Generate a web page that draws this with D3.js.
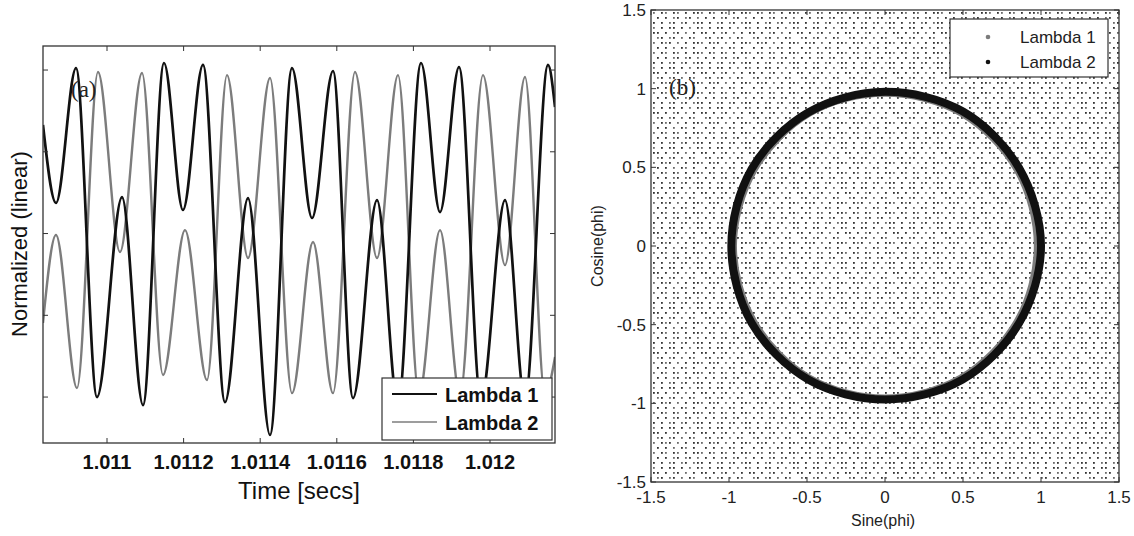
<!DOCTYPE html>
<html>
<head>
<meta charset="utf-8">
<script src="https://cdn.jsdelivr.net/npm/d3@7"></script>
<style>
  body { margin: 0; background: #fff; }
  svg { display: block; }
</style>
</head>
<body>
<svg id="chart" width="1134" height="536"></svg>
<script>
// ---- data ----
// panel (a): fringe signals, time [s] and normalized level at each turning point
var timeL1 = [1.0108329, 1.0108668, 1.0109191, 1.0109739, 1.0110392, 1.0110940, 1.0111488,
              1.0111984, 1.0112507, 1.0113081, 1.0113682, 1.0114256, 1.0114830, 1.0115353,
              1.0115901, 1.0116423, 1.0117050, 1.0117598, 1.0118199, 1.0118695, 1.0119191,
              1.0119765, 1.0120392, 1.0120914, 1.0121515, 1.0121697];
var levelL1 = [0.664, 0.187, 1.012, -1.0, 0.223, -1.049, 1.043,
               0.144, 1.031, -1.031, 0.217, -1.232, 1.012, 0.095,
               0.994, -1.006, 0.205, -1.049, 1.043, 0.131, 1.018,
               -1.018, 0.205, -1.018, 1.031, 0.774];
var timeL2 = [1.0108329, 1.0108668, 1.0109217, 1.0109765, 1.0110339, 1.0110914, 1.0111462,
              1.0112037, 1.0112611, 1.0113133, 1.0113682, 1.0114256, 1.0114830, 1.0115379,
              1.0115901, 1.0116475, 1.0117050, 1.0117598, 1.0118146, 1.0118695, 1.0119217,
              1.0119817, 1.0120392, 1.0120914, 1.0121436, 1.0121697];
var levelL2 = [-0.547, -0.009, -0.945, 0.988, -0.113, 0.982, -0.865,
               0.021, -0.896, 0.969, -0.150, 0.951, -0.976, -0.052,
               -0.976, 0.988, -0.150, 0.969, -0.988, 0.021, -0.988,
               0.969, -0.193, 0.957, -0.988, -0.755];
var timeTicks = [1.011, 1.0112, 1.0114, 1.0116, 1.0118, 1.012];
var timeTickLabels = ['1.011', '1.0112', '1.0114', '1.0116', '1.0118', '1.012'];
var levelTicks = [-1, -0.5, 0, 0.5, 1];

// panel (b): sine / cosine of phase, points traced round each ring
var sineL1 = [0.00, 0.485, 0.84, 0.97, 0.84, 0.48, 0.00, -0.48, -0.835, -0.965, -0.835, -0.48];
var cosineL1 = [0.965, 0.84, 0.485, 0.00, -0.48, -0.835, -0.96, -0.835, -0.48, 0.00, 0.48, 0.84];
var sineL2 = [0.00, 0.50, 0.86, 1.00, 0.86, 0.495, 0.00, -0.49, -0.855, -0.985, -0.855, -0.49];
var cosineL2 = [0.98, 0.855, 0.495, 0.00, -0.49, -0.85, -0.975, -0.85, -0.49, 0.00, 0.49, 0.85];
var phiTicks = [-1.5, -1, -0.5, 0, 0.5, 1, 1.5];
var phiTickLabels = ['-1.5', '-1', '-0.5', '0', '0.5', '1', '1.5'];
var seriesNames = ['Lambda 1', 'Lambda 2'];

var BLACK = '#111', GREY = '#7c7c7c', FRAME = '#333';
var svg = d3.select('#chart');

function zip(xs, ys) {
  return xs.map(function(x, i) { return [x, ys[i]]; });
}

function drawFrame(g, x, y, xt, yt, tickLen) {
  var x0 = x.range()[0], x1 = x.range()[1], y0 = y.range()[0], y1 = y.range()[1];
  g.append('rect')
    .attr('x', x0).attr('y', y1)
    .attr('width', x1 - x0).attr('height', y0 - y1)
    .attr('fill', 'none').attr('stroke', FRAME).attr('stroke-width', 1.3);
  xt.forEach(function(v) {
    g.append('line').attr('x1', x(v)).attr('x2', x(v)).attr('y1', y0).attr('y2', y0 - tickLen)
      .attr('stroke', FRAME);
    g.append('line').attr('x1', x(v)).attr('x2', x(v)).attr('y1', y1).attr('y2', y1 + tickLen)
      .attr('stroke', FRAME);
  });
  yt.forEach(function(v) {
    g.append('line').attr('x1', x0).attr('x2', x0 + tickLen).attr('y1', y(v)).attr('y2', y(v))
      .attr('stroke', FRAME);
    g.append('line').attr('x1', x1).attr('x2', x1 - tickLen).attr('y1', y(v)).attr('y2', y(v))
      .attr('stroke', FRAME);
  });
}

// ================= panel (a) =================
var xa = d3.scaleLinear().domain([1.0108329, 1.0121697]).range([43, 555]);
var ya = d3.scaleLinear().domain([-1.281, 1.147]).range([443, 46]);
var ga = svg.append('g');

ga.append('clipPath').attr('id', 'clip-a')
  .append('rect').attr('x', 43).attr('y', 46).attr('width', 512).attr('height', 397);

var lineA = d3.line()
  .x(function(d) { return xa(d[0]); })
  .y(function(d) { return ya(d[1]); })
  .curve(d3.curveMonotoneX);

var plotA = ga.append('g').attr('clip-path', 'url(#clip-a)');
plotA.append('path').datum(zip(timeL2, levelL2))
  .attr('d', lineA).attr('fill', 'none').attr('stroke', GREY).attr('stroke-width', 2.4);
plotA.append('path').datum(zip(timeL1, levelL1))
  .attr('d', lineA).attr('fill', 'none').attr('stroke', BLACK).attr('stroke-width', 2.7);

drawFrame(ga, xa, ya, timeTicks, levelTicks, 5);

ga.selectAll('text.xtick')
  .data(timeTicks)
  .enter()
    .append('text')
      .attr('class', 'xtick')
      .attr('x', function(d) { return xa(d); })
      .attr('y', 469)
      .attr('text-anchor', 'middle')
      .style('font', 'bold 20px "Liberation Sans", Arial, sans-serif')
      .attr('fill', '#111')
      .text(function(d, i) { return timeTickLabels[i]; });

ga.append('text')
  .attr('x', 299).attr('y', 499)
  .attr('text-anchor', 'middle')
  .style('font', '24px "Liberation Sans", Arial, sans-serif')
  .attr('fill', '#111')
  .text('Time [secs]');

ga.append('text')
  .attr('transform', 'translate(27,244) rotate(-90)')
  .attr('text-anchor', 'middle')
  .style('font', '22px "Liberation Sans", Arial, sans-serif')
  .attr('fill', '#111')
  .text('Normalized (linear)');

ga.append('text')
  .attr('x', 71).attr('y', 97)
  .style('font', '23px "Liberation Serif", "Times New Roman", serif')
  .attr('fill', '#222')
  .text('(a)');

// legend (a)
var legA = ga.append('g');
legA.append('rect')
  .attr('x', 382).attr('y', 378).attr('width', 170).attr('height', 62)
  .attr('fill', '#fff').attr('stroke', FRAME).attr('stroke-width', 1.2);
[BLACK, GREY].forEach(function(c, i) {
  var yy = 394 + i * 28;
  legA.append('line').attr('x1', 392).attr('x2', 437).attr('y1', yy).attr('y2', yy)
    .attr('stroke', c).attr('stroke-width', i ? 1.6 : 2.2);
  legA.append('text')
    .attr('x', 445).attr('y', yy + 8)
    .style('font', 'bold 20px "Liberation Sans", Arial, sans-serif')
    .attr('fill', '#111')
    .text(seriesNames[i]);
});

// ================= panel (b) =================
var xb = d3.scaleLinear().domain([-1.5, 1.5]).range([651, 1119]);
var yb = d3.scaleLinear().domain([-1.5, 1.5]).range([482, 10]);
var gb = svg.append('g');

// speckled background of the scatter
var speckle = [
  'x.xx.xx.x.xx',
  '.x.x.xx.xx.x',
  'x.x.xx.xx.xx',
  'x.x.xx.x.x.x',
  'xx.x.xx.x.x.',
  '.xx.xx.x.xx.',
  'x.xxx.x.x.xx',
  '.x.x.x.xx.x.'
];
var pat = gb.append('defs').append('pattern')
  .attr('id', 'speckle').attr('patternUnits', 'userSpaceOnUse')
  .attr('x', 652).attr('y', 11)
  .attr('width', 48).attr('height', 40);
speckle.forEach(function(row, r) {
  row.split('').forEach(function(ch, c) {
    if (ch !== 'x') return;
    pat.append('rect')
      .attr('x', c * 4 + 1).attr('y', r * 5 + 1)
      .attr('width', 1.8).attr('height', 1.8)
      .attr('fill', (r + c) % 3 ? '#333' : '#6a6a6a');
  });
});
gb.append('rect')
  .attr('x', 651).attr('y', 10).attr('width', 468).attr('height', 472)
  .attr('fill', 'url(#speckle)');

var ring = d3.line()
  .x(function(d) { return xb(d[0]); })
  .y(function(d) { return yb(d[1]); })
  .curve(d3.curveCatmullRomClosed.alpha(0.5));

gb.append('path').datum(zip(sineL1, cosineL1))
  .attr('d', ring).attr('fill', 'none').attr('stroke', GREY).attr('stroke-width', 5);
gb.append('path').datum(zip(sineL2, cosineL2))
  .attr('d', ring).attr('fill', 'none').attr('stroke', BLACK).attr('stroke-width', 8);

drawFrame(gb, xb, yb, phiTicks, phiTicks, 5);

gb.selectAll('text.xtick')
  .data(phiTicks)
  .enter()
    .append('text')
      .attr('class', 'xtick')
      .attr('x', function(d) { return xb(d); })
      .attr('y', 503)
      .attr('text-anchor', 'middle')
      .style('font', '17px "Liberation Sans", Arial, sans-serif')
      .attr('fill', '#222')
      .text(function(d, i) { return phiTickLabels[i]; });

gb.selectAll('text.ytick')
  .data(phiTicks)
  .enter()
    .append('text')
      .attr('class', 'ytick')
      .attr('x', 646)
      .attr('y', function(d) { return yb(d) + 6; })
      .attr('text-anchor', 'end')
      .style('font', '17px "Liberation Sans", Arial, sans-serif')
      .attr('fill', '#222')
      .text(function(d, i) { return phiTickLabels[i]; });

gb.append('text')
  .attr('x', 883).attr('y', 526)
  .attr('text-anchor', 'middle')
  .style('font', '16px "Liberation Sans", Arial, sans-serif')
  .attr('fill', '#222')
  .text('Sine(phi)');

gb.append('text')
  .attr('transform', 'translate(603,246) rotate(-90)')
  .attr('text-anchor', 'middle')
  .style('font', '16px "Liberation Sans", Arial, sans-serif')
  .attr('fill', '#222')
  .text('Cosine(phi)');

gb.append('text')
  .attr('x', 669).attr('y', 95)
  .style('font', '23px "Liberation Serif", "Times New Roman", serif')
  .attr('fill', '#222')
  .text('(b)');

// legend (b)
var legB = gb.append('g');
legB.append('rect')
  .attr('x', 950).attr('y', 19).attr('width', 158).attr('height', 58)
  .attr('fill', '#fff').attr('stroke', FRAME).attr('stroke-width', 1.2);
[GREY, BLACK].forEach(function(c, i) {
  var yy = 37 + i * 25;
  legB.append('circle').attr('cx', 988).attr('cy', yy).attr('r', 2.3).attr('fill', c);
  legB.append('text')
    .attr('x', 1020).attr('y', yy + 6)
    .style('font', '17px "Liberation Sans", Arial, sans-serif')
    .attr('fill', '#222')
    .text(seriesNames[i]);
});
</script>
</body>
</html>
